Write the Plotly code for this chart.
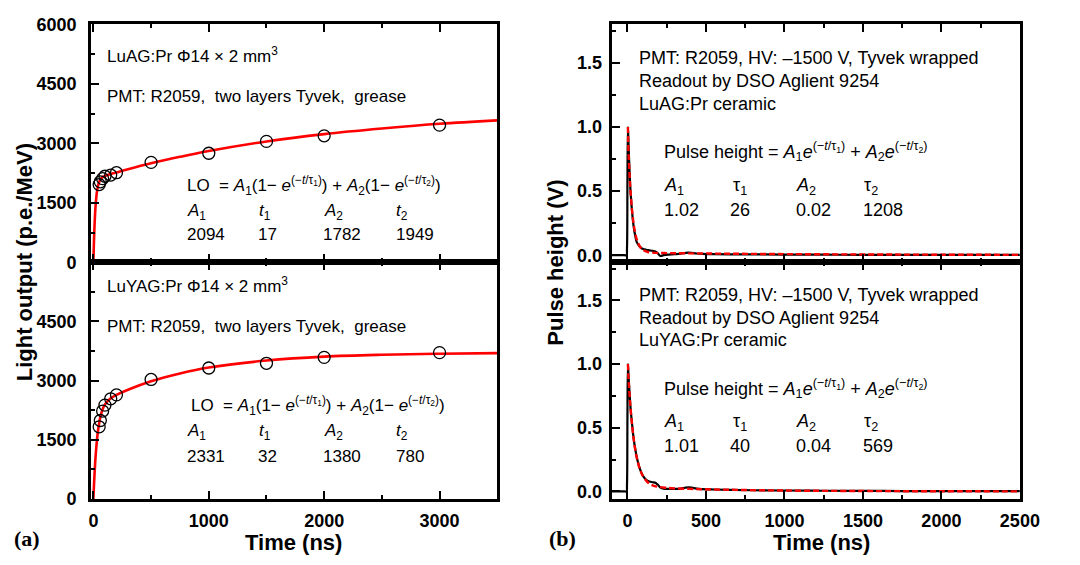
import plotly.graph_objects as go

# ---------------- data ----------------
# (a) light output vs integration time
lo_t = [50, 60, 80, 100, 150, 200, 500, 1000, 1500, 2000, 3000]
luag_lo = [1960, 2030, 2110, 2170, 2200, 2260, 2520, 2750, 3050, 3190, 3460]
luyag_lo = [1830, 1990, 2230, 2380, 2540, 2640, 3030, 3320, 3440, 3590, 3710]

fit_t = [0, 5, 10, 15, 20, 30, 40, 60, 80, 100, 150, 200, 300, 500, 750, 1000, 1500, 2000, 2500, 3000, 3500]
luag_fit = [0, 538, 940, 1241, 1466, 1762, 1931, 2088, 2148, 2178, 2226, 2267, 2348, 2497, 2660, 2807, 3049, 3233, 3374, 3494, 3580]
luyag_fit = [0, 346, 642, 899, 1118, 1470, 1732, 2076, 2276, 2397, 2552, 2638, 2769, 2984, 3181, 3333, 3509, 3609, 3656, 3681, 3696]

# (b) pulse shapes
pulse_t = [-100, -60, -20, -6, -3, 0, 3, 6, 10, 15, 20, 30, 40, 50, 60, 80, 100, 120, 140, 160, 180,
           195, 210, 230, 260, 300, 340, 370, 390, 410, 440, 480, 550, 650, 800, 1000, 1250, 1500,
           1750, 2000, 2250, 2500]
luag_pulse = [0, 0, 0, 0, 0.05, 0.6, 1.0, 0.90, 0.76, 0.61, 0.49, 0.33, 0.22, 0.15, 0.1, 0.065, 0.048,
              0.042, 0.038, 0.034, 0.028, 0.012, -0.006, 0.0, 0.005, 0.008, 0.012, 0.018, 0.02, 0.018,
              0.013, 0.01, 0.008, 0.007, 0.006, 0.005, 0.004, 0.003, 0.003, 0.002, 0.002, 0.002]
luyag_pulse = [0, 0, 0, 0, 0.05, 0.6, 1.0, 0.93, 0.84, 0.74, 0.65, 0.52, 0.41, 0.33, 0.265, 0.175, 0.12,
               0.09, 0.078, 0.072, 0.066, 0.05, 0.03, 0.022, 0.02, 0.02, 0.022, 0.03, 0.032, 0.03,
               0.022, 0.018, 0.015, 0.012, 0.009, 0.007, 0.005, 0.004, 0.003, 0.002, 0.002, 0.002]

pfit_t = [3, 6, 10, 15, 20, 30, 40, 50, 60, 80, 100, 130, 160, 200, 250, 300, 400, 500, 700, 1000, 1500, 2000, 2500]
luag_pfit = [1.0, 0.83, 0.714, 0.593, 0.492, 0.341, 0.238, 0.168, 0.12, 0.066, 0.040, 0.025, 0.0197,
             0.0175, 0.0163, 0.0156, 0.0144, 0.0132, 0.0112, 0.0087, 0.0058, 0.0038, 0.0025]
luyag_pfit = [1.0, 0.909, 0.826, 0.733, 0.65, 0.515, 0.409, 0.325, 0.261, 0.172, 0.117, 0.07, 0.048,
              0.035, 0.028, 0.024, 0.0198, 0.0166, 0.012, 0.0069, 0.0029, 0.0012, 0.0005]

left_xticks = [0, 1000, 2000, 3000]
left_yticks = [0, 1500, 3000, 4500, 6000]
right_xticks = [0, 500, 1000, 1500, 2000, 2500]
right_yticks = [0.0, 0.5, 1.0, 1.5]

# ---------------- figure ----------------
W, H = 1080, 565
def px(x):
    return x / W
def py(y):
    return 1 - y / H

SANS = "Liberation Sans, Arial, sans-serif"
SERIF = "Liberation Serif, Times New Roman, serif"

fig = go.Figure()

def circles(x, y, xa, ya):
    fig.add_trace(go.Scatter(x=x, y=y, mode="markers", xaxis=xa, yaxis=ya,
                             marker=dict(symbol="circle-open", size=12, color="black",
                                         line=dict(width=1.3, color="black")),
                             showlegend=False))

def redline(x, y, xa, ya):
    fig.add_trace(go.Scatter(x=x, y=y, mode="lines", xaxis=xa, yaxis=ya, line_shape="spline",
                             line=dict(color="#ff0000", width=2.6), showlegend=False))

redline(fit_t, luag_fit, "x", "y")
circles(lo_t, luag_lo, "x", "y")
redline(fit_t, luyag_fit, "x2", "y2")
circles(lo_t, luyag_lo, "x2", "y2")

for xa, ya, raw, fit in [("x3", "y3", luag_pulse, luag_pfit), ("x4", "y4", luyag_pulse, luyag_pfit)]:
    fig.add_trace(go.Scatter(x=pulse_t, y=raw, mode="lines", xaxis=xa, yaxis=ya, line_shape="spline",
                             line=dict(color="black", width=2.2), showlegend=False))
    fig.add_trace(go.Scatter(x=pfit_t, y=fit, mode="lines", xaxis=xa, yaxis=ya, line_shape="spline",
                             line=dict(color="#ff0000", width=2.4, dash="6px,3px"), showlegend=False))

tickfont = dict(family=SANS, size=18, color="black", weight="bold")

def xax(dom, anchor, rng, vals, minor, labels):
    return dict(domain=dom, anchor=anchor, range=rng, tickmode="array", tickvals=vals,
                showticklabels=labels, ticks="inside", ticklen=8, tickwidth=2, tickcolor="black",
                minor=dict(ticks="inside", ticklen=4, tickwidth=2, tickcolor="black", dtick=minor, tick0=0),
                showline=True, linewidth=3, linecolor="black", mirror="ticks",
                showgrid=False, zeroline=False, tickfont=tickfont, ticklabelstandoff=3)

def yax(dom, anchor, rng, vals, texts, minor, standoff):
    return dict(domain=dom, anchor=anchor, range=rng, tickmode="array", tickvals=vals, ticktext=texts,
                ticks="inside", ticklen=8, tickwidth=2, tickcolor="black",
                minor=dict(ticks="inside", ticklen=4, tickwidth=2, tickcolor="black", dtick=minor, tick0=0),
                showline=True, linewidth=3, linecolor="black", mirror=True,
                showgrid=False, zeroline=False, tickfont=tickfont, ticklabelstandoff=standoff)

LX = [px(90), px(505)]
RX = [px(622), px(1039)]
TOP = [py(261.5), py(15)]
BOT = [py(507), py(261.5)]

fig.update_layout(
    width=W, height=H, margin=dict(l=0, r=0, t=0, b=0), autosize=False,
    paper_bgcolor="white", plot_bgcolor="white", showlegend=False,
    xaxis=xax(LX, "y", [-20, 3500], left_xticks, 500, False),
    yaxis=yax(TOP, "x", [0, 6000], left_yticks, [str(v) for v in left_yticks], 750, 8),
    xaxis2=xax(LX, "y2", [-20, 3500], left_xticks, 500, True),
    yaxis2=yax(BOT, "x2", [0, 6000], left_yticks, [str(v) for v in left_yticks[:-1]] + [""], 750, 8),
    xaxis3=xax(RX, "y3", [-100, 2500], right_xticks, 250, False),
    yaxis3=yax(TOP, "x3", [-0.055, 1.8], right_yticks, ["%.1f" % v for v in right_yticks], 0.25, 3),
    xaxis4=xax(RX, "y4", [-100, 2500], right_xticks, 250, True),
    yaxis4=yax(BOT, "x4", [-0.06, 1.8], right_yticks, ["%.1f" % v for v in right_yticks], 0.25, 3),
)

NB = "\u00a0"
ann = []
def txt(x, y, s, size=17, anchor="left", family=SANS, weight="normal", angle=0):
    ann.append(dict(x=px(x), y=py(y), xref="paper", yref="paper", text=s, showarrow=False,
                    xanchor=anchor, yanchor="middle", textangle=angle,
                    font=dict(family=family, size=size, color="black", weight=weight)))

I = lambda s: "<i>" + s + "</i>"
lo_formula = ("LO" + NB + NB + "= " + I("A") + "<sub>1</sub>(1" + "\u2212" + NB + I("e") +
              "<sup>(\u2212" + I("t") + "/\u03c4<sub>1</sub>)</sup>) + " + I("A") + "<sub>2</sub>(1\u2212" + NB +
              I("e") + "<sup>(\u2212" + I("t") + "/\u03c4<sub>2</sub>)</sup>)")
ph_formula = ("Pulse height = " + I("A") + "<sub>1</sub>" + I("e") + "<sup>(\u2212" + I("t") +
              "/\u03c4<sub>1</sub>)</sup> + " + I("A") + "<sub>2</sub>" + I("e") + "<sup>(\u2212" + I("t") +
              "/\u03c4<sub>2</sub>)</sup>")
pmt_left = "PMT: R2059," + NB + NB + "two layers Tyvek," + NB + NB + "grease"

# left top
txt(104, 47, "LuAG:Pr \u03a614 \u00d7 2 mm<sup>3</sup>")
txt(104, 90, pmt_left)
txt(186, 182, lo_formula)
for x, s in [(186, I("A") + "<sub>1</sub>"), (260, I("t") + "<sub>1</sub>"),
             (326, I("A") + "<sub>2</sub>"), (400, I("t") + "<sub>2</sub>")]:
    txt(x, 209, s)
for x, s in [(186, "2094"), (258, "17"), (325, "1782"), (400, "1949")]:
    txt(x, 233, s)

# left bottom
txt(104, 285, "LuYAG:Pr \u03a614 \u00d7 2 mm<sup>3</sup>")
txt(104, 328, pmt_left)
txt(190, 410, lo_formula)
for x, s in [(186, I("A") + "<sub>1</sub>"), (260, I("t") + "<sub>1</sub>"),
             (326, I("A") + "<sub>2</sub>"), (400, I("t") + "<sub>2</sub>")]:
    txt(x, 438, s)
for x, s in [(186, "2331"), (258, "32"), (325, "1380"), (400, "780")]:
    txt(x, 463, s)

# right panels
for dy, crystal, vals in [(0, "LuAG:Pr ceramic", ["1.02", "26", "0.02", "1208"]),
                          (245, "LuYAG:Pr ceramic", ["1.01", "40", "0.04", "569"])]:
    txt(648, 50 + dy, "PMT: R2059, HV: \u20131500 V, Tyvek wrapped", size=18)
    txt(648, 74 + dy, "Readout by DSO Aglient 9254", size=18)
    txt(648, 97 + dy, crystal, size=18)
    txt(673, 147 + dy, ph_formula, size=18)
    for x, s in [(673, I("A") + "<sub>1</sub>"), (744, "\u03c4<sub>1</sub>"),
                 (808, I("A") + "<sub>2</sub>"), (878, "\u03c4<sub>2</sub>")]:
        txt(x, 183 + dy, s, size=18)
    for x, s in zip([673, 741, 808, 877], vals):
        txt(x, 207 + dy, s, size=18)

# axis titles and panel labels
txt(22, 262, "Light output (p.e./MeV)", size=22, anchor="center", weight="bold", angle=-90)
txt(565, 262, "Pulse height (V)", size=22, anchor="center", weight="bold", angle=-90)
txt(297, 552, "Time (ns)", size=22, anchor="center", weight="bold")
txt(836, 552, "Time (ns)", size=22, anchor="center", weight="bold")
txt(25, 548, "(a)", size=22, anchor="center", weight="bold", family=SERIF)
txt(572, 548, "(b)", size=22, anchor="center", weight="bold", family=SERIF)

fig.update_layout(annotations=ann)
fig.write_html("out.html")
